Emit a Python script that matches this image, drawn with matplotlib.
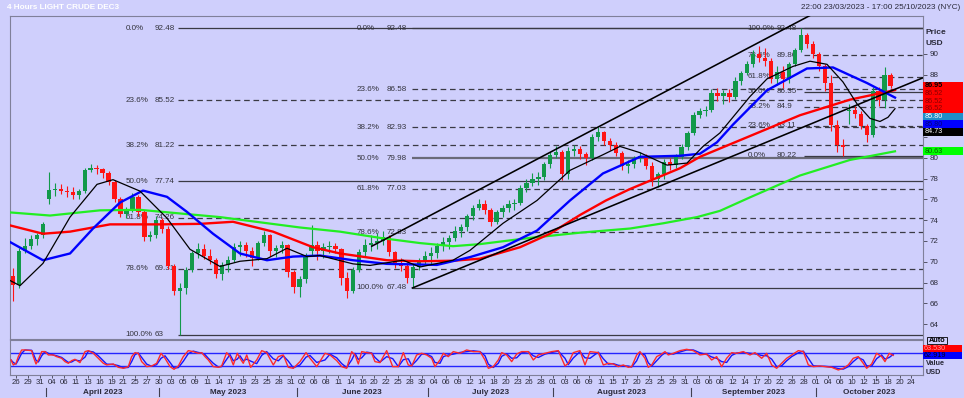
import numpy as np
import pandas as pd
import matplotlib
matplotlib.use('Agg')
import matplotlib.pyplot as plt
from matplotlib.patches import Rectangle
from matplotlib.lines import Line2D
from matplotlib.transforms import blended_transform_factory as btf

plt.rcParams['font.family'] = ['Liberation Sans', 'DejaVu Sans']

# ---------------- data ----------------
# daily candles, first one = 2023-03-24
opens = [68.6, 67.8, 71.0, 71.5, 72.2, 72.6, 76.0, 76.9, 77.0, 76.8, 76.7, 76.4, 76.8, 78.8, 79.0, 78.9, 78.5, 77.7, 76.0, 74.6,
         75.0, 76.2, 74.8, 72.4, 72.6, 74.0, 73.2, 69.6, 67.2, 67.5, 69.2, 70.8, 71.2, 70.6, 70.2, 68.8, 69.7, 70.2, 71.4, 71.6,
         71.0, 70.4, 71.8, 72.6, 71.0, 71.3, 71.6, 69.0, 67.6, 68.3, 71.0, 71.6, 71.0, 71.4, 71.5, 71.2, 68.4, 67.2, 69.2, 70.9,
         71.6, 71.8, 72.0, 72.4, 70.9, 69.8, 69.6, 68.4, 69.5, 70.0, 70.6, 70.8, 71.5, 71.9, 72.3, 73.0, 73.3, 74.4, 75.2, 75.6,
         75.0, 73.8, 74.8, 75.2, 75.6, 75.7, 77.1, 77.6, 78.0, 78.2, 79.4, 80.3, 80.6, 78.4, 80.7, 80.9, 80.4, 80.0, 82.0, 82.5,
         81.6, 81.2, 80.5, 79.2, 79.4, 80.0, 80.2, 79.2, 78.0, 78.4, 79.6, 79.3, 80.1, 81.0, 82.4, 84.1, 84.5, 84.6, 86.2, 86.0,
         86.2, 85.9, 87.4, 88.2, 89.0, 90.0, 89.6, 89.3, 87.6, 88.3, 87.6, 89.0, 90.4, 91.8, 91.0, 90.0, 88.8, 87.2, 83.2, 81.2,
         84.5, 84.6, 84.2, 83.1, 82.2, 86.4, 85.6, 88.0]
highs = [69.4, 71.3, 72.3, 72.6, 72.8, 73.8, 78.6, 77.6, 77.5, 77.3, 77.2, 77.0, 79.0, 79.4, 79.3, 79.0, 78.7, 77.9, 76.2, 75.3,
         76.6, 76.4, 75.0, 73.0, 74.4, 74.2, 73.4, 69.8, 68.0, 69.5, 71.0, 71.8, 71.7, 71.2, 70.4, 70.0, 70.6, 71.8, 72.0, 71.9,
         71.4, 72.0, 73.0, 72.7, 71.6, 72.0, 71.7, 69.2, 68.6, 70.8, 73.5, 72.0, 71.8, 72.0, 71.8, 71.3, 69.0, 69.5, 71.2, 72.2,
         72.6, 72.8, 73.0, 72.6, 71.0, 70.4, 70.0, 69.8, 70.4, 71.0, 71.4, 71.8, 72.4, 72.6, 73.4, 73.6, 74.6, 75.5, 76.0, 75.9,
         75.2, 75.0, 75.5, 75.9, 76.0, 77.4, 78.0, 78.5, 78.6, 79.6, 80.6, 81.1, 80.8, 81.0, 81.2, 81.1, 80.6, 82.3, 83.0, 82.6,
         81.9, 81.5, 80.7, 79.8, 80.2, 80.6, 80.4, 79.6, 78.6, 79.9, 80.0, 80.4, 81.3, 82.6, 84.4, 84.8, 85.0, 86.6, 86.7, 86.5,
         86.6, 87.8, 88.4, 89.3, 90.4, 90.8, 90.6, 89.6, 88.8, 88.8, 89.2, 90.6, 92.48, 92.0, 91.2, 90.2, 89.0, 88.0, 83.6, 81.8,
         85.2, 85.0, 84.5, 83.3, 86.8, 86.8, 88.7, 88.2]
lows = [66.2, 67.5, 70.8, 71.2, 71.6, 72.3, 75.6, 76.3, 76.5, 76.2, 76.0, 76.0, 76.6, 78.6, 78.4, 78.1, 77.4, 75.8, 74.3, 74.2,
        74.8, 74.4, 72.0, 72.0, 72.3, 72.8, 69.3, 66.8, 63.0, 66.9, 69.0, 70.4, 70.3, 69.8, 68.4, 68.2, 69.0, 70.0, 70.6, 70.5,
        69.6, 70.2, 71.5, 70.6, 70.5, 70.8, 68.5, 67.0, 66.6, 68.0, 70.6, 70.2, 70.4, 70.8, 70.8, 67.8, 66.5, 67.0, 69.0, 70.6,
        71.0, 71.2, 71.6, 70.6, 69.4, 69.1, 68.0, 67.48, 69.2, 69.7, 69.8, 70.4, 71.0, 71.2, 72.0, 72.4, 73.0, 74.0, 75.0, 74.6,
        73.4, 73.6, 74.3, 74.8, 75.0, 75.5, 76.7, 77.3, 77.4, 77.9, 79.0, 80.0, 77.9, 78.0, 80.2, 79.9, 79.3, 79.8, 81.6, 81.2,
        80.8, 80.2, 78.8, 78.5, 79.0, 79.6, 78.9, 77.3, 77.2, 78.0, 78.8, 79.0, 79.9, 80.8, 82.2, 83.8, 84.0, 84.4, 85.5, 85.2,
        85.4, 85.7, 87.0, 88.0, 88.7, 89.2, 88.8, 87.2, 87.0, 86.7, 87.2, 88.8, 90.2, 90.6, 89.6, 88.4, 86.4, 82.6, 80.6, 80.22,
        83.3, 83.8, 82.8, 81.5, 82.0, 85.0, 84.8, 86.7]
closes = [67.8, 71.0, 71.5, 72.2, 72.6, 73.6, 76.9, 77.0, 76.8, 76.7, 76.4, 76.8, 78.8, 79.0, 78.9, 78.5, 77.7, 76.0, 74.6, 75.0,
          76.2, 74.8, 72.4, 72.6, 74.0, 73.2, 69.6, 67.2, 67.5, 69.2, 70.8, 71.2, 70.6, 70.2, 68.8, 69.7, 70.2, 71.4, 71.6, 71.0,
          70.4, 71.8, 72.6, 71.0, 71.3, 71.6, 69.0, 67.6, 68.3, 70.6, 71.6, 71.0, 71.4, 71.5, 71.2, 68.4, 67.2, 69.2, 70.9, 71.6,
          71.8, 72.0, 72.4, 70.9, 69.8, 69.6, 68.4, 69.5, 70.0, 70.6, 70.8, 71.5, 71.9, 72.3, 73.0, 73.3, 74.4, 75.2, 75.6, 75.0,
          73.8, 74.8, 75.2, 75.6, 75.7, 77.1, 77.6, 78.0, 78.2, 79.4, 80.3, 80.6, 78.4, 80.7, 80.9, 80.4, 80.0, 82.0, 82.5, 81.6,
          81.2, 80.5, 79.2, 79.4, 80.0, 80.2, 79.2, 78.0, 78.4, 79.6, 79.3, 80.1, 81.0, 82.4, 84.1, 84.5, 84.6, 86.2, 86.0, 86.2,
          85.9, 87.4, 88.2, 89.0, 90.0, 89.6, 89.3, 87.6, 88.3, 87.6, 89.0, 90.4, 91.8, 91.0, 90.0, 88.8, 87.2, 83.2, 81.2, 81.0,
          84.6, 84.2, 83.1, 82.2, 86.4, 85.6, 88.0, 86.95]

# moving averages (x in trading-day units, 0 = 27 Mar 2023)
green_u = [-1.0, 5.70, 14.07, 20.77, 27.47, 34.17, 40.87, 47.57, 54.27, 60.97, 67.67, 73.2, 77.72, 86.1, 94.47,
           102.85, 108.38, 114.07, 117.92, 122.95, 131.32, 139.7, 147.24]
green_v = [74.75, 74.45, 74.95, 75.0, 74.65, 74.3, 73.8, 73.3, 72.9, 72.3, 71.8, 71.5, 71.7, 72.3, 72.8,
           73.2, 73.7, 74.3, 74.9, 76.2, 78.3, 79.8, 80.63]
red_u = [-1.0, 4.52, 9.05, 15.75, 24.12, 30.82, 36.35, 43.05, 49.75, 54.27, 62.14, 67.67, 73.2, 77.72, 84.42,
         89.45, 94.47, 98.82, 102.85, 111.22, 114.57, 122.95, 131.32, 139.7, 147.24]
red_v = [73.5, 72.7, 72.9, 73.6, 73.6, 73.65, 73.85, 72.9, 71.4, 70.8, 70.15, 70.05, 70.1, 70.3, 71.4,
         72.7, 74.5, 75.9, 77.0, 79.0, 80.1, 82.1, 84.1, 85.6, 86.52]
blue_u = [-1.0, 4.52, 9.05, 12.9, 17.42, 21.27, 25.29, 28.64, 33.0, 37.52, 42.04, 46.4, 50.92, 56.45, 62.14, 70.52,
          76.05, 81.57, 87.27, 92.8, 98.32, 104.52, 111.22, 114.57, 117.42, 120.1, 125.8, 132.5, 136.85, 142.55, 147.24]
blue_v = [71.9, 70.15, 70.8, 73.2, 75.7, 76.85, 76.25, 74.8, 72.7, 70.8, 70.15, 70.5, 70.6, 70.15, 69.8, 69.7,
          70.45, 71.4, 73.0, 75.9, 78.5, 80.1, 80.2, 80.4, 81.5, 83.2, 86.5, 88.6, 88.7, 87.2, 85.8]
black_u = [-1.0, 0.67, 4.52, 9.05, 13.57, 16.25, 20.77, 25.29, 29.15, 34.17, 37.52, 42.04, 45.39, 48.74, 50.92,
           56.45, 59.3, 64.82, 67.67, 73.2, 76.05, 81.57, 87.27, 92.8, 98.32, 101.17, 104.52, 109.05, 112.4, 115.08,
           117.92, 122.95, 125.8, 130.15, 133.0, 135.85, 138.53, 140.87, 143.05, 144.72, 146.06, 147.24]
black_v = [68.2, 67.7, 69.85, 74.3, 77.45, 77.9, 76.8, 74.2, 71.2, 69.55, 70.05, 70.3, 71.3, 70.5, 70.6,
           69.8, 69.65, 70.15, 69.5, 70.15, 71.1, 73.7, 75.9, 78.8, 80.3, 81.1, 80.5, 79.3, 79.5, 81.1,
           82.4, 85.9, 87.6, 88.8, 89.3, 89.0, 87.3, 85.2, 83.8, 83.5, 83.9, 84.73]

# trend channel (day, price)
chan_up_u = [59.6, 133.0]
chan_up_v = [71.5, 93.7]
chan_lo_u = [66.4, 151.9]
chan_lo_v = [67.48, 87.7]

# Fibonacci sets
fibA_pct = ['0.0%', '23.6%', '38.2%', '50.0%', '61.8%', '78.6%', '100.0%']
fibA_val = [92.48, 85.52, 81.22, 77.74, 74.26, 69.31, 63]
fibB_pct = ['0.0%', '23.6%', '38.2%', '50.0%', '61.8%', '78.6%', '100.0%']
fibB_val = [92.48, 86.58, 82.93, 79.98, 77.03, 72.83, 67.48]
fibC_pct = ['100.0%', '78.6%', '61.8%', '50.0%', '38.2%', '23.6%', '0.0%']
fibC_val = [92.48, 89.86, 87.8, 86.35, 84.9, 83.11, 80.22]
fib_anchor = [27.19, 66.4, 132.0]

# right-hand value labels
lab_vals = [86.95, 86.52, 86.52, 86.52, 85.80, 85.80, 84.73, 80.63]
lab_face = ['#ff0000', '#ff0000', '#ff0000', '#ff0000', '#1f8fc8', '#0000ff', '#000000', '#00ff00']
lab_text = ['#000000', '#8b0000', '#8b0000', '#8b0000', '#ffffff', '#000080', '#ffffff', '#006000']

# oscillator
osc_u = [-0.84, -0.45, 0, 0.39, 0.95, 1.51, 2.63, 2.9, 3.35, 3.74, 4.3, 4.86, 5.42, 6.25, 6.81, 7.65, 8.21, 8.77,
         9.32, 9.88, 10.72, 11.56, 12.12, 12.95, 13.79, 14.63, 15.19, 16.3, 17.14, 17.98, 18.81, 19.37, 19.93, 20.49,
         21.05, 21.89, 22.73, 23.56, 24.29, 24.96, 25.8, 26.47, 27.19, 28.02, 28.86, 29.7, 30.54, 31.1, 31.66, 32.21,
         33.05, 33.89, 34.45, 35.29, 35.85, 36.4, 37.07, 37.52, 38.07, 38.65, 39.31, 40.32, 41.16, 41.99, 43.1, 43.94,
         44.77, 45.61, 46.45, 47.57, 48.58, 49.25, 50.37, 51.76, 52.6, 53.72, 54.56, 55.39, 56.23, 56.78, 57.34, 57.91,
         58.74, 59.58, 60.13, 60.97, 62.09, 63.1, 64.04, 64.88, 65.71, 66.28, 67.11, 67.95, 68.79, 69.63, 70.18, 71.02,
         71.58, 72.41, 73.25, 74.37, 75.49, 76.6, 77.72, 78.56, 79.12, 79.95, 80.79, 81.36, 82.19, 83.03, 83.87, 84.7,
         85.82, 86.65, 87.49, 88.61, 89.73, 90.84, 91.96, 92.51, 93.35, 94.47, 95.31, 96.15, 97.54, 98.38, 99.21,
         100.05, 100.89, 101.73, 102.56, 103.13, 103.97, 104.52, 105.36, 105.91, 106.48, 107.32, 108.16, 108.71,
         109.26, 110.1, 111.22, 112.34, 113.45, 114.57, 115.69, 116.53, 117.37, 118.2, 119.04, 119.88, 120.72,
         121.83, 122.95, 123.79, 124.91, 125.74, 126.58, 127.42, 128.26, 129.09, 129.93, 131.05, 131.88, 132.72,
         133.56, 134.67, 135.51, 136.63, 137.74, 138.58, 139.41, 140.25, 141.09, 141.93, 142.49, 143.33, 144.16,
         145.0, 145.56, 146.28, 146.95]
osc_v = [49, 33.3, 38.5, 59.5, 80.5, 80.5, 78.4, 59.5, 36.4, 49, 75.3, 75.3, 64.8, 64.8, 59.5, 54.3, 43.8, 38.5,
         46.9, 51.1, 40.6, 75.3, 78.4, 70, 54.3, 38.5, 33.3, 36.4, 25.9, 22.8, 28, 59.5, 72.1, 70,
         43.8, 28, 30.1, 38.5, 70, 54.3, 28, 19.6, 30.1, 59.5, 78.4, 75.3, 70, 72.1, 59.5, 49,
         28, 25.9, 30.1, 72.1, 59.5, 33.3, 70, 54.3, 38.5, 64.8, 25.9, 49, 78.4, 72.1, 33.3, 59.5,
         64.8, 25.9, 22.8, 43.8, 72.1, 54.3, 28, 70, 64.8, 46.9, 28, 22.8, 75.3, 64.8, 36.4, 75.3,
         72.1, 70, 43.8, 40.6, 78.4, 28, 28, 72.1, 33.3, 30.1, 64.8, 70, 64.8, 54.3, 28, 49,
         70, 59.5, 75.3, 70, 80.5, 75.3, 75.3, 49, 22.8, 28, 49, 72.1, 64.8, 43.8, 67.9, 75.3,
         75.3, 49, 64.8, 70, 75.3, 78.4, 30.1, 38.5, 72.1, 78.4, 33.3, 75.3, 72.1, 33.3, 38.5,
         36.4, 28, 33.3, 25.9, 28, 64.8, 75.3, 54.3, 25.9, 33.3, 59.5, 67.9, 75.3,
         64.8, 70, 78.4, 82.6, 78.4, 64.8, 67.9, 49, 59.5, 28, 54.3, 72.1, 70,
         75.3, 64.8, 72.1, 54.3, 70, 33.3, 22.8, 38.5, 54.3, 64.8, 78.4, 75.3, 33.3,
         28, 30.1, 28, 25.9, 17.5, 22.8, 33.3, 54.3, 59.5, 38.5, 22.8, 36.4, 70,
         59.5, 43.8, 70, 63.5]
osc_levels = [70, 30]

tick_dates = ['2023-03-26', '2023-03-29', '2023-03-31', '2023-04-04', '2023-04-06', '2023-04-11', '2023-04-13',
              '2023-04-16', '2023-04-19', '2023-04-21', '2023-04-25', '2023-04-27', '2023-04-30', '2023-05-03',
              '2023-05-05', '2023-05-09', '2023-05-11', '2023-05-14', '2023-05-17', '2023-05-19', '2023-05-23',
              '2023-05-25', '2023-05-28', '2023-05-31', '2023-06-02', '2023-06-06', '2023-06-08', '2023-06-11',
              '2023-06-14', '2023-06-16', '2023-06-20', '2023-06-22', '2023-06-25', '2023-06-28', '2023-06-30',
              '2023-07-04', '2023-07-06', '2023-07-09', '2023-07-12', '2023-07-14', '2023-07-18', '2023-07-20',
              '2023-07-23', '2023-07-26', '2023-07-28', '2023-08-01', '2023-08-03', '2023-08-06', '2023-08-09',
              '2023-08-11', '2023-08-15', '2023-08-17', '2023-08-20', '2023-08-23', '2023-08-25', '2023-08-29',
              '2023-08-31', '2023-09-03', '2023-09-06', '2023-09-08', '2023-09-12', '2023-09-14', '2023-09-17',
              '2023-09-20', '2023-09-22', '2023-09-26', '2023-09-28', '2023-10-01', '2023-10-04', '2023-10-06',
              '2023-10-10', '2023-10-12', '2023-10-15', '2023-10-18', '2023-10-20', '2023-10-24']
months = ['2023-04-01', '2023-05-01', '2023-06-01', '2023-07-01', '2023-08-01', '2023-09-01', '2023-10-01']
month_names = ['April 2023', 'May 2023', 'June 2023', 'July 2023', 'August 2023', 'September 2023', 'October 2023']

# ---------------- helpers ----------------
sessions = pd.bdate_range('2023-03-24', '2023-11-30')
sessions = sessions[sessions != pd.Timestamp('2023-04-07')]
origin = sessions.get_loc(pd.Timestamp('2023-03-27'))


def day_pos(s):
    return sessions.searchsorted(pd.Timestamp(s)) - origin


W, H = 964, 398
BG = '#cfcffc'
TXT = '#2a2a3a'
XMIN, XMAX = -1.005, 151.93
YMIN, YMAX = 62.57, 93.65


def rect(x0, y0, x1, y1):
    return [x0 / W, 1 - y1 / H, (x1 - x0) / W, (y1 - y0) / H]


fig = plt.figure(figsize=(W / 100, H / 100), dpi=100)
fig.patch.set_facecolor(BG)

ax = fig.add_axes(rect(10, 16, 923, 339))
axo = fig.add_axes(rect(10, 340, 923, 375))
for a in (ax, axo):
    a.set_facecolor(BG)
    a.set_xlim(XMIN, XMAX)
    for s in a.spines.values():
        s.set_color('#80809a')
        s.set_linewidth(0.8)

ax.set_ylim(YMIN, YMAX)

# ---------- fib levels ----------
px = 0.72  # points per pixel
fib_sets = [(fibA_pct, fibA_val, fib_anchor[0], -52.6, -23.3),
            (fibB_pct, fibB_val, fib_anchor[1], -55.5, -25.7),
            (fibC_pct, fibC_val, fib_anchor[2], -56.3, -27.5)]
for pcts, vals, anc, off_p, off_v in fib_sets:
    for p, v in zip(pcts, vals):
        solid = p in ('0.0%', '50.0%', '100.0%')
        lw = 1.6 if (v == 79.98) else 0.9
        col = '#6a6a78' if v == 79.98 else '#3a3a44'
        ax.plot([anc, XMAX], [v, v], color=col, lw=lw,
                ls='-' if solid else (0, (4.5, 3)), zorder=1.5, solid_capstyle='butt')
        ax.annotate(p, xy=(anc, v), xytext=(off_p * px, 0), textcoords='offset points',
                    ha='left', va='center', fontsize=5.8, color='#33333d', zorder=1.6,
                    annotation_clip=False)
        ax.annotate('{:g}'.format(v), xy=(anc, v), xytext=(off_v * px, 0), textcoords='offset points',
                    ha='left', va='center', fontsize=5.8, color='#33333d', zorder=1.6,
                    annotation_clip=False)

# ---------- candles ----------
o = np.array(opens); h = np.array(highs); l = np.array(lows); c = np.array(closes)
xc = np.arange(len(c)) - 1 + 0.5
up = c >= o
cols = np.where(up, '#12994a', '#ff1414')
ax.vlines(xc, l, h, colors=cols, lw=0.8, zorder=2.5)
ax.bar(xc, np.maximum(np.abs(c - o), 0.06), bottom=np.minimum(o, c), width=0.72,
       color=cols, linewidth=0, zorder=2.6)

# ---------- moving averages ----------
ax.plot(green_u, green_v, color='#22ee22', lw=1.6, zorder=3, solid_joinstyle='round')
ax.plot(red_u, red_v, color='#ff0000', lw=1.7, zorder=3.1, solid_joinstyle='round')
ax.plot(blue_u, blue_v, color='#0000ff', lw=1.7, zorder=3.2, solid_joinstyle='round')
ax.plot(black_u, black_v, color='#000000', lw=0.9, zorder=3.3, solid_joinstyle='round')

# ---------- channel ----------
ax.plot(chan_up_u, chan_up_v, color='black', lw=1.15, zorder=3.5)
ax.plot(chan_lo_u, chan_lo_v, color='black', lw=1.15, zorder=3.5)

# ---------- right axis ----------
ax.yaxis.tick_right()
yt = np.arange(64, 91, 2)
ax.set_yticks(yt)
# tick labels 82-86 sit behind the value-label boxes
ax.set_yticklabels(['' if 81 < t < 87 else str(t) for t in yt])
ax.tick_params(axis='y', direction='out', length=3, width=0.6, color='#404050',
               labelsize=5.8, labelcolor=TXT, pad=1.5)
ax.tick_params(axis='x', bottom=False, labelbottom=False)

# value labels stacked on right
tr = btf(ax.transAxes, ax.transData)
hb = 7.7 * (YMAX - YMIN) / 323.0
bw = 39.5 / 913.0
prev = None
for v, fc, tc in zip(lab_vals, lab_face, lab_text):
    yc = v if prev is None else min(v, prev - hb)
    prev = yc
    ax.add_patch(Rectangle((1.0005, yc - hb / 2), bw, hb, transform=tr, facecolor=fc,
                           edgecolor='none', clip_on=False, zorder=10))
    ax.text(1.0015, yc, '{:.2f}'.format(v), transform=tr, fontsize=5.2, color=tc,
            fontweight='bold' if tc == '#000000' else 'normal',
            ha='left', va='center', clip_on=False, zorder=11)

fig.text(926 / W, 1 - 32.5 / H, 'Price', fontsize=6.0, fontweight='bold', color=TXT, va='center')
fig.text(926 / W, 1 - 43.5 / H, 'USD', fontsize=6.0, fontweight='bold', color=TXT, va='center')

# ---------- oscillator ----------
axo.set_ylim(1.65, 111.9)
for lv in osc_levels:
    axo.axhline(lv, color='#2525ff', lw=1.0, zorder=1)
sig = pd.Series(osc_v).rolling(2, min_periods=1).mean().to_numpy()
axo.plot(osc_u, sig, color='#1515ff', lw=1.0, zorder=2)
axo.plot(osc_u, osc_v, color='#ff2a2a', lw=1.0, zorder=3)
axo.set_yticks([])

tpos = [day_pos(d) for d in tick_dates]
tlab = [pd.Timestamp(d).strftime('%d') for d in tick_dates]
axo.set_xticks(tpos)
axo.set_xticklabels(tlab)
axo.tick_params(axis='x', length=2, width=0.6, color='#404050', labelsize=5.6,
                labelcolor=TXT, pad=1.0)

mpos = [day_pos(m) for m in months]
trm = btf(axo.transData, fig.transFigure)
for i, name in enumerate(month_names):
    x0 = mpos[i]
    x1 = mpos[i + 1] if i + 1 < len(mpos) else XMAX
    axo.text((x0 + x1) / 2, 1 - 392.3 / H, name, transform=trm, ha='center', va='center',
             fontsize=5.9, fontweight='bold', color=TXT, clip_on=False)
    fig.add_artist(Line2D([x0, x0], [1 - 387.5 / H, 1 - 396 / H], transform=trm,
                          color='#404050', lw=0.8))


# osc right labels
def fbox(x0, y0, x1, y1, fc, ec='none', lw=0.0):
    fig.add_artist(Rectangle((x0 / W, 1 - y1 / H), (x1 - x0) / W, (y1 - y0) / H,
                             transform=fig.transFigure, facecolor=fc, edgecolor=ec, lw=lw))


fbox(927, 337, 947, 344.3, BG, ec='#000000', lw=0.6)
fig.text(937 / W, 1 - 340.7 / H, 'Auto', fontsize=5.2, fontweight='bold', color='#000000',
         ha='center', va='center')
fbox(923, 344.5, 962, 351.8, '#ff0000')
fig.text(924 / W, 1 - 348.1 / H, '63.530', fontsize=5.2, color='#ff9a9a', va='center')
fbox(923, 351.8, 962, 359.2, '#0000ff')
fig.text(924 / W, 1 - 355.5 / H, '62.919', fontsize=5.2, color='#000020', va='center')
fig.text(926 / W, 1 - 363.6 / H, 'Value', fontsize=5.2, fontweight='bold', color=TXT, va='center')
fig.text(926 / W, 1 - 372.8 / H, 'USD', fontsize=5.2, fontweight='bold', color=TXT, va='center')

# ---------- titles ----------
fig.text(7 / W, 1 - 7.5 / H, '4 Hours LIGHT CRUDE DEC3', fontsize=5.9, fontweight='bold',
         color='white', va='center')
fig.text(960 / W, 1 - 7.5 / H, '22:00 23/03/2023 - 17:00 25/10/2023 (NYC)', fontsize=5.9,
         color=TXT, ha='right', va='center')

fig.savefig('out.png', dpi=100, facecolor=BG)
